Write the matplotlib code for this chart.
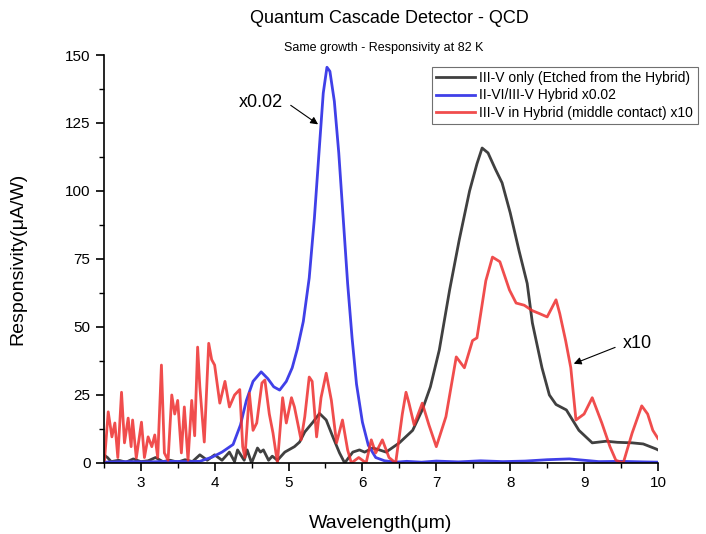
import matplotlib
matplotlib.use('Agg')
import matplotlib.pyplot as plt
from matplotlib.ticker import MultipleLocator

plt.rcParams['font.family'] = ['Liberation Sans', 'DejaVu Sans']

# III-V only (etched from the hybrid)
x_only = [2.5, 2.55, 2.6, 2.7, 2.8, 2.9, 3.0, 3.1, 3.2, 3.3, 3.4, 3.5, 3.6, 3.7, 3.8, 3.9,
          4.0, 4.1, 4.2, 4.27, 4.31, 4.4, 4.44, 4.5, 4.58, 4.62, 4.66, 4.73, 4.78, 4.85, 4.95,
          5.08, 5.15, 5.22, 5.33, 5.42, 5.51, 5.6, 5.69, 5.76, 5.87, 5.96, 6.03, 6.14, 6.23,
          6.32, 6.5, 6.68, 6.81, 6.92, 7.04, 7.18, 7.31, 7.45, 7.55, 7.62, 7.7, 7.8, 7.89, 8.0,
          8.12, 8.23, 8.3, 8.43, 8.53, 8.62, 8.76, 8.93, 9.11, 9.3, 9.45, 9.65, 9.8, 9.97, 10.0]
y_only = [3, 2, 0.5, 1, 0.3, 1.5, 0.5, 0.8, 2, 0.5, 1, 0.3, 1.2, 0.5, 3, 1,
          3, 1, 4, 0.5, 4.8, 1, 4.8, 0, 5.5, 4, 4.8, 1, 2.5, 1, 4,
          6, 7.7, 11.4, 15, 18.2, 15.8, 9.6, 3.7, 0, 4, 4.8, 4, 5.5, 4.8,
          4, 7.4, 12, 19.5, 28, 41.5, 63.6, 82, 100, 110, 115.8, 114, 108, 103, 92,
          78, 66, 51.5, 35, 25, 21.5, 19.5, 12, 7.4, 8, 7.6, 7.4, 7.0, 5.2, 4.8]

# II-VI/III-V hybrid x0.02
x_hyb = [2.5, 2.8, 3.1, 3.4, 3.6, 3.8, 3.97, 4.1, 4.25, 4.35, 4.43, 4.52, 4.63, 4.72, 4.8,
         4.88, 4.97, 5.05, 5.12, 5.2, 5.28, 5.35, 5.42, 5.47, 5.52, 5.56, 5.62, 5.68, 5.74,
         5.8, 5.86, 5.92, 6.0, 6.08, 6.18, 6.3, 6.45, 6.6, 6.8, 7.0, 7.3, 7.6, 7.9, 8.2, 8.5,
         8.8, 9.0, 9.2, 9.5, 9.8, 10.0]
y_hyb = [0.3, 0.5, 0.4, 0.6, 0.5, 0.6, 2.2, 4, 6.8, 14, 23, 30, 33.5, 31, 28,
         26.8, 30, 35, 42, 52, 68, 90, 117, 136, 145.5, 144, 133, 114, 90,
         66, 46, 29, 15, 6.5, 2, 0.8, 0.3, 0.6, 0.3, 0.7, 0.4, 0.8, 0.5, 0.7, 1.2,
         1.5, 1.0, 0.5, 0.6, 0.4, 0.3]

# III-V in hybrid (middle contact) x10
x_mid = [2.5, 2.51, 2.56, 2.61, 2.65, 2.69, 2.74, 2.78, 2.83, 2.87, 2.89, 2.94, 3.01, 3.05,
         3.1, 3.15, 3.19, 3.23, 3.28, 3.32, 3.37, 3.42, 3.46, 3.5, 3.55, 3.59, 3.64, 3.69,
         3.73, 3.77, 3.8, 3.86, 3.92, 3.96, 4.0, 4.07, 4.14, 4.2, 4.27, 4.34, 4.38, 4.41,
         4.47, 4.52, 4.57, 4.64, 4.68, 4.74, 4.79, 4.85, 4.92, 4.97, 5.04, 5.08, 5.17, 5.22,
         5.28, 5.32, 5.38, 5.44, 5.51, 5.58, 5.65, 5.73, 5.8, 5.85, 5.95, 6.05, 6.12, 6.18,
         6.27, 6.36, 6.45, 6.54, 6.59, 6.63, 6.7, 6.81, 6.9, 7.0, 7.13, 7.27, 7.38, 7.49,
         7.55, 7.67, 7.76, 7.86, 7.99, 8.08, 8.19, 8.3, 8.39, 8.5, 8.62, 8.67, 8.75, 8.82,
         8.89, 9.0, 9.11, 9.24, 9.35, 9.43, 9.53, 9.65, 9.78, 9.86, 9.93, 10.0]
y_mid = [3, 1, 18.8, 9.6, 14.7, 2, 26, 7.4, 16.5, 6, 15.8, 1.8, 15, 2,
         9.6, 6, 10.3, 2, 36, 3.7, 1, 25, 18, 23, 3.7, 20.6, 1, 23,
         10, 42.6, 28, 7.7, 44, 38, 36, 22, 30, 20.6, 25, 27, 6, 2,
         25.7, 12, 14.7, 29.4, 30.5, 18, 11, 0, 24, 14.7, 24, 20.6, 8.5, 17,
         31.6, 30, 9.6, 24, 33, 23, 7.4, 15.8, 4.8, 0, 2, 0, 8.5, 3.7,
         8.5, 2, 0, 18, 26, 22, 14, 22, 14, 6, 17, 39, 35, 45,
         46, 67, 75.7, 74, 63.6, 58.8, 58, 56, 55, 53.7, 60, 55, 45, 35,
         15.8, 18, 24, 14.7, 6, 1, 0, 11, 21, 18, 12, 9]

fig = plt.figure(figsize=(7.06, 5.34), dpi=100)
ax = fig.add_axes([0.147, 0.133, 0.785, 0.764])

ax.plot(x_only, y_only, color='#404040', lw=2.0, label='III-V only (Etched from the Hybrid)')
ax.plot(x_hyb, y_hyb, color='#4040e8', lw=2.0, label='II-VI/III-V Hybrid x0.02')
ax.plot(x_mid, y_mid, color='#ee2e2e', alpha=0.85, lw=2.0,
        label='III-V in Hybrid (middle contact) x10')

ax.set_xlim(2.5, 10)
ax.set_ylim(0, 150)
ax.xaxis.set_major_locator(MultipleLocator(1))
ax.xaxis.set_minor_locator(MultipleLocator(0.5))
ax.yaxis.set_major_locator(MultipleLocator(25))
ax.yaxis.set_minor_locator(MultipleLocator(12.5))
ax.tick_params(which='major', direction='out', length=6, width=1.2, labelsize=11)
ax.tick_params(which='minor', direction='out', length=3.5, width=1.0)
ax.spines['top'].set_visible(False)
ax.spines['right'].set_visible(False)
ax.spines['left'].set_linewidth(1.2)
ax.spines['bottom'].set_linewidth(1.2)

ax.set_xlabel('Wavelength(\u03bcm)', fontsize=14, labelpad=18)
ax.set_ylabel('Responsivity(\u03bcA/W)', fontsize=14, labelpad=28)

fig.text(0.551, 0.966, 'Quantum Cascade Detector - QCD', ha='center', va='center', fontsize=13)
fig.text(0.543, 0.91, 'Same growth - Responsivity at 82 K', ha='center', va='center', fontsize=9)

# annotations: text plus separate arrows
ax.text(4.62, 132.5, 'x0.02', fontsize=13, ha='center', va='center')
ax.annotate('', xy=(5.4, 124.5), xytext=(5.03, 131.5),
            arrowprops=dict(arrowstyle='-|>', color='black', lw=0.8, shrinkA=0, shrinkB=0,
                            mutation_scale=11))
ax.text(9.72, 44, 'x10', fontsize=13, ha='center', va='center')
ax.annotate('', xy=(8.86, 36.5), xytext=(9.42, 42.5),
            arrowprops=dict(arrowstyle='-|>', color='black', lw=0.8, shrinkA=0, shrinkB=0,
                            mutation_scale=11))

leg = ax.legend(loc='upper right', bbox_to_anchor=(0.988, 0.875), bbox_transform=fig.transFigure,
                fontsize=10, fancybox=False, edgecolor='#707070', framealpha=1,
                handlelength=2.8, handletextpad=0.3, borderpad=0.3, labelspacing=0.25,
                borderaxespad=0)
leg.get_frame().set_linewidth(0.8)

fig.savefig('out.png', dpi=100)
